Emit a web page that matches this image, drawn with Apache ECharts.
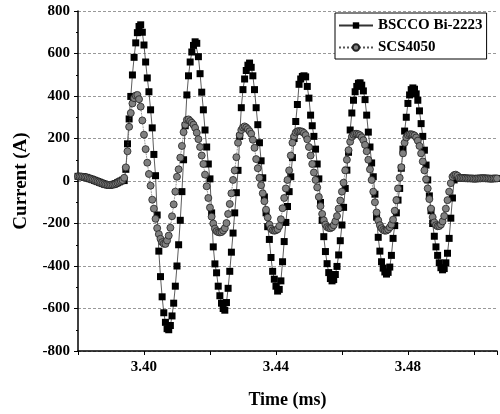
<!DOCTYPE html>
<html><head><meta charset="utf-8">
<script src="https://cdn.jsdelivr.net/npm/echarts@6/dist/echarts.min.js"></script>
<style>html,body{margin:0;padding:0;background:#fff}#c{width:500px;height:414px}</style>
</head><body><div id="c"></div>
<script>
const timeMs = [
3.3800,3.3805,3.3810,3.3815,3.3820,3.3825,3.3830,3.3835,3.3840,3.3845,
3.3850,3.3855,3.3860,3.3865,3.3870,3.3875,3.3880,3.3885,3.3890,3.3895,
3.3900,3.3905,3.3910,3.3915,3.3920,3.3925,3.3930,3.3935,3.3940,3.3945,
3.3950,3.3955,3.3960,3.3965,3.3970,3.3975,3.3980,3.3985,3.3990,3.3995,
3.4000,3.4005,3.4010,3.4015,3.4020,3.4025,3.4030,3.4035,3.4040,3.4045,
3.4050,3.4055,3.4060,3.4065,3.4070,3.4075,3.4080,3.4085,3.4090,3.4095,
3.4100,3.4105,3.4110,3.4115,3.4120,3.4125,3.4130,3.4135,3.4140,3.4145,
3.4150,3.4155,3.4160,3.4165,3.4170,3.4175,3.4180,3.4185,3.4190,3.4195,
3.4200,3.4205,3.4210,3.4215,3.4220,3.4225,3.4230,3.4235,3.4240,3.4245,
3.4250,3.4255,3.4260,3.4265,3.4270,3.4275,3.4280,3.4285,3.4290,3.4295,
3.4300,3.4305,3.4310,3.4315,3.4320,3.4325,3.4330,3.4335,3.4340,3.4345,
3.4350,3.4355,3.4360,3.4365,3.4370,3.4375,3.4380,3.4385,3.4390,3.4395,
3.4400,3.4405,3.4410,3.4415,3.4420,3.4425,3.4430,3.4435,3.4440,3.4445,
3.4450,3.4455,3.4460,3.4465,3.4470,3.4475,3.4480,3.4485,3.4490,3.4495,
3.4500,3.4505,3.4510,3.4515,3.4520,3.4525,3.4530,3.4535,3.4540,3.4545,
3.4550,3.4555,3.4560,3.4565,3.4570,3.4575,3.4580,3.4585,3.4590,3.4595,
3.4600,3.4605,3.4610,3.4615,3.4620,3.4625,3.4630,3.4635,3.4640,3.4645,
3.4650,3.4655,3.4660,3.4665,3.4670,3.4675,3.4680,3.4685,3.4690,3.4695,
3.4700,3.4705,3.4710,3.4715,3.4720,3.4725,3.4730,3.4735,3.4740,3.4745,
3.4750,3.4755,3.4760,3.4765,3.4770,3.4775,3.4780,3.4785,3.4790,3.4795,
3.4800,3.4805,3.4810,3.4815,3.4820,3.4825,3.4830,3.4835,3.4840,3.4845,
3.4850,3.4855,3.4860,3.4865,3.4870,3.4875,3.4880,3.4885,3.4890,3.4895,
3.4900,3.4905,3.4910,3.4915,3.4920,3.4925,3.4930,3.4935,3.4940,3.4945,
3.4950,3.4955,3.4960,3.4965,3.4970,3.4975,3.4980,3.4985,3.4990,3.4995,
3.5000,3.5005,3.5010,3.5015,3.5020,3.5025,3.5030,3.5035,3.5040,3.5045,
3.5050,3.5055,3.5060,3.5065,3.5070
];
const bscco = [
22,21,21,20,18,17,14,11,9,6,
3,0,-3,-6,-9,-12,-15,-17,-18,-19,
-18,-17,-15,-12,-8,-4,0,4,2,55,
175,292,398,499,582,650,698,727,735,700,
640,560,485,420,335,250,125,25,-160,-330,
-450,-545,-620,-665,-695,-700,-680,-635,-575,-495,
-400,-300,-185,-50,100,260,405,495,560,607,
638,655,648,585,505,418,335,240,160,80,
10,-150,-310,-390,-432,-495,-540,-575,-600,-608,
-572,-505,-425,-335,-245,-150,-55,50,210,345,
430,480,520,545,555,535,495,430,345,265,
180,95,15,-75,-150,-215,-275,-360,-425,-462,
-495,-518,-510,-470,-380,-285,-195,-120,-50,20,
110,200,280,360,455,480,492,495,490,445,
390,310,260,210,150,80,10,-101,-185,-262,
-332,-389,-431,-459,-470,-464,-440,-402,-348,-281,
-207,-124,-35,51,135,240,320,380,420,445,
460,462,451,424,383,310,230,160,85,20,
-62,-170,-265,-330,-380,-410,-428,-438,-430,-405,
-350,-270,-210,-150,-90,-35,60,150,235,300,
365,405,430,438,432,410,380,330,270,210,
145,75,5,-70,-140,-200,-260,-310,-350,-385,
-408,-418,-412,-385,-340,-270,-175,-80,5,20,
18,15,14,14,13,13,12,12,12,12,
11,11,12,12,12,13,13,12,12,12,
11,11,12,12,12
];
const scs = [
22,21,21,20,18,17,14,11,9,6,
3,0,-3,-6,-9,-12,-15,-17,-18,-19,
-18,-17,-15,-12,-8,-4,0,4,15,64,
140,255,320,365,390,402,405,385,350,285,
218,150,86,33,-22,-88,-130,-178,-222,-250,
-272,-288,-295,-296,-280,-257,-220,-166,-110,-50,
20,55,110,165,230,265,288,290,282,274,
265,250,227,197,160,120,80,30,-25,-80,
-125,-168,-200,-224,-236,-241,-242,-240,-233,-222,
-198,-155,-108,-58,5,50,112,180,216,240,
252,257,252,244,234,222,194,156,103,60,
15,-20,-58,-95,-135,-172,-205,-224,-232,-234,
-232,-227,-212,-180,-128,-80,-35,5,50,120,
180,210,228,234,235,234,232,226,216,196,
160,120,80,40,5,-30,-75,-118,-155,-185,
-205,-217,-221,-222,-218,-208,-190,-165,-130,-92,
-50,-8,50,100,145,185,208,218,222,222,
220,215,206,192,170,140,100,55,5,-50,
-100,-148,-185,-208,-222,-230,-234,-233,-228,-218,
-205,-182,-140,-90,-35,15,65,130,180,205,
216,220,220,218,214,205,190,165,130,92,
50,8,-35,-85,-130,-170,-195,-208,-213,-212,
-205,-190,-165,-130,-90,-50,-10,20,28,30,
25,15,14,14,13,13,12,12,12,12,
11,11,12,12,12,13,13,12,12,12,
11,11,12,12,12
];
const seriesNames = ['BSCCO Bi-2223', 'SCS4050'];
const xTickLabels = ['3.40', '3.44', '3.48'];
const xTitle = 'Time (ms)';
const yTitle = 'Current (A)';

const font = "'Liberation Serif','Times New Roman',serif";
const chart = echarts.init(document.getElementById('c'), null, {renderer: 'canvas'});
const toPairs = arr => timeMs.map((t, i) => [t, arr[i]]);
chart.setOption({
  animation: false,
  backgroundColor: '#fff',
  grid: {left: 78, right: 0, top: 11, bottom: 61, containLabel: false},
  legend: {
    orient: 'vertical', left: 335, top: 13,
    padding: [5, 4, 4, 3], itemGap: 7, itemWidth: 34, itemHeight: 8,
    backgroundColor: '#fff', borderColor: '#000', borderWidth: 1,
    textStyle: {fontFamily: font, fontWeight: 'bold', fontSize: 15, color: '#000'},
    data: seriesNames
  },
  xAxis: {
    type: 'value', min: 3.38, max: 3.507, interval: 0.02,
    name: xTitle, nameLocation: 'middle', nameGap: 40,
    nameTextStyle: {fontFamily: font, fontWeight: 'bold', fontSize: 18, color: '#000'},
    axisLine: {show: true, onZero: false, lineStyle: {color: '#000', width: 1.5}},
    axisTick: {show: true, length: 4, lineStyle: {color: '#000'}},
    axisLabel: {
      fontFamily: font, fontWeight: 'bold', fontSize: 15, color: '#000', margin: 9,
      showMinLabel: true, showMaxLabel: true,
      formatter: v => { const s = Number(v).toFixed(2); return xTickLabels.includes(s) ? s : ''; }
    },
    splitLine: {show: false}
  },
  yAxis: {
    type: 'value', min: -800, max: 800, interval: 200,
    name: yTitle, nameLocation: 'middle', nameGap: 47,
    nameTextStyle: {fontFamily: font, fontWeight: 'bold', fontSize: 19, color: '#000'},
    axisLine: {show: true, onZero: false, lineStyle: {color: '#000', width: 1.5}},
    axisTick: {show: true, length: 4, lineStyle: {color: '#000'}},
    minorTick: {show: true, splitNumber: 2, length: 2, lineStyle: {color: '#000'}},
    axisLabel: {fontFamily: font, fontWeight: 'bold', fontSize: 15, color: '#000', margin: 8},
    splitLine: {show: true, lineStyle: {color: '#999', width: 1, type: [3, 2]}}
  },
  series: [
    {
      name: seriesNames[0], type: 'line', data: toPairs(bscco),
      symbol: 'rect', symbolSize: 7, showAllSymbol: true, z: 2,
      lineStyle: {color: '#333', width: 0.8},
      itemStyle: {color: '#000'}
    },
    {
      name: seriesNames[1], type: 'line', data: toPairs(scs),
      symbol: 'circle', symbolSize: 7, showAllSymbol: true, z: 3,
      lineStyle: {color: '#555', width: 0.8, type: 'dotted'},
      itemStyle: {color: '#808080', borderColor: '#222', borderWidth: 0.8}
    }
  ]
});
</script></body></html>
